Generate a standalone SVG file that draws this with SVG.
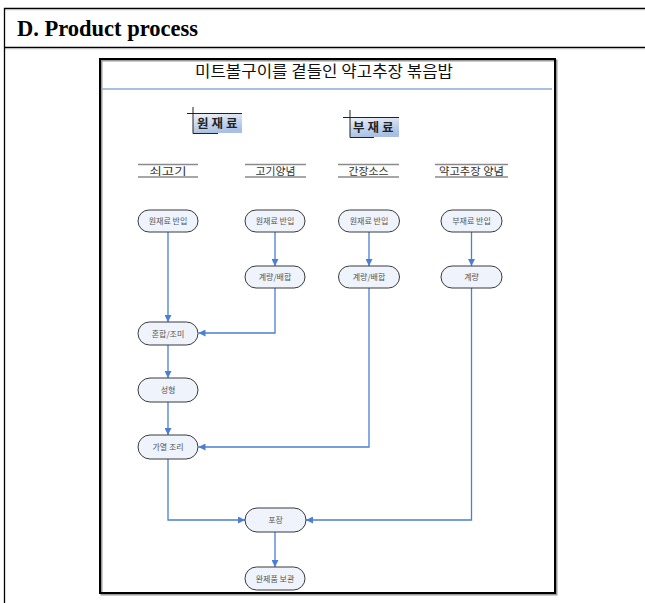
<svg xmlns="http://www.w3.org/2000/svg" width="645" height="603" viewBox="0 0 645 603">
<style>
.kr{font-family:"Noto Sans CJK KR","Noto Sans",sans-serif}
.node rect{fill:#eef3fc;stroke:#3a3a3a;stroke-width:1}
.node text{font-size:8px;fill:#555;text-anchor:middle}
.cat line{stroke:#8a8a8a;stroke-width:1.5}
.cat text{font-size:10.5px;fill:#333;text-anchor:middle}
.conn path{fill:none;stroke:#4a7fd4;stroke-width:1.3;marker-end:url(#arr)}
.lbl text{font-size:12.5px;font-weight:bold;fill:#222;letter-spacing:3px}
.lbl line{stroke:#222;stroke-width:1}
</style>
<defs>
<marker id="arr" markerUnits="userSpaceOnUse" markerWidth="7" markerHeight="7" refX="7" refY="3.5" orient="auto">
<path d="M0,0 L7,3.5 L0,7 z" fill="#4a7fd4"/>
</marker>
<linearGradient id="lg" x1="0" y1="0" x2="0.3" y2="1">
<stop offset="0" stop-color="#eef2fa"/>
<stop offset="1" stop-color="#a9c0e4"/>
</linearGradient>
</defs>
<rect width="645" height="603" fill="#fff"/>
<g id="table">
<line x1="4" y1="8.5" x2="645" y2="8.5" stroke="#000" stroke-width="1.3"/>
<line x1="4" y1="9.8" x2="645" y2="9.8" stroke="#bbb" stroke-width="0.8"/>
<line x1="4" y1="47.5" x2="645" y2="47.5" stroke="#000" stroke-width="1.3"/>
<line x1="4" y1="48.8" x2="645" y2="48.8" stroke="#bbb" stroke-width="0.8"/>
<line x1="4.5" y1="8" x2="4.5" y2="603" stroke="#000" stroke-width="1.3"/>
<text x="17" y="35.5" font-family="Liberation Serif,serif" font-weight="bold" font-size="24" textLength="181" lengthAdjust="spacingAndGlyphs">D.  Product  process</text>
</g>
<g id="frame">
<rect x="101.5" y="60.5" width="455" height="534" fill="none" stroke="#999" stroke-width="2"/>
<rect x="100" y="59" width="455" height="534" fill="none" stroke="#000" stroke-width="2"/>
<text class="kr" x="324" y="76.5" font-size="15.5" text-anchor="middle" fill="#111" textLength="258" lengthAdjust="spacingAndGlyphs">미트볼구이를 곁들인 약고추장 볶음밥</text>
<line x1="101" y1="89" x2="552" y2="89" stroke="#8eaadb" stroke-width="1.5"/>
</g>
<g id="label-raw" class="lbl kr">
<rect x="193" y="114" width="49" height="19" fill="url(#lg)"/>
<line x1="193" y1="107" x2="193" y2="133.5"/>
<line x1="187" y1="113.5" x2="242" y2="113.5"/>
<line x1="193" y1="133.5" x2="218" y2="133.5"/>
<text x="197" y="128">원재료</text>
</g>
<g id="label-sub" class="lbl kr">
<rect x="350" y="117" width="49" height="20" fill="url(#lg)"/>
<line x1="350" y1="110" x2="350" y2="137.5"/>
<line x1="343" y1="117.5" x2="399" y2="117.5"/>
<line x1="350" y1="137.5" x2="374" y2="137.5"/>
<text x="353" y="132">부재료</text>
</g>
<g id="cat-beef" class="cat kr">
<line x1="138" y1="164.5" x2="198" y2="164.5"/><line x1="138" y1="177" x2="198" y2="177"/>
<text x="168" y="175" textLength="37" lengthAdjust="spacingAndGlyphs">쇠고기</text>
</g>
<g id="cat-meat-sauce" class="cat kr">
<line x1="245" y1="164.5" x2="306" y2="164.5"/><line x1="245" y1="177" x2="306" y2="177"/>
<text x="275.5" y="175" textLength="40" lengthAdjust="spacingAndGlyphs">고기양념</text>
</g>
<g id="cat-soy" class="cat kr">
<line x1="338" y1="164.5" x2="399" y2="164.5"/><line x1="338" y1="177" x2="399" y2="177" stroke="#555"/>
<text x="368.5" y="175" textLength="40" lengthAdjust="spacingAndGlyphs">간장소스</text>
</g>
<g id="cat-gochujang" class="cat kr">
<line x1="435" y1="164.5" x2="508" y2="164.5"/><line x1="435" y1="177" x2="508" y2="177"/>
<text x="471.5" y="175" textLength="65" lengthAdjust="spacingAndGlyphs">약고추장 양념</text>
</g>
<g id="connectors" class="conn">
<path d="M168,232 V322"/>
<path d="M275,232 V266"/>
<path d="M369,232 V266"/>
<path d="M471.5,232 V266"/>
<path d="M275,288 V333 H198.5"/>
<path d="M168,345 V378"/>
<path d="M168,402 V435"/>
<path d="M369,288 V447 H198.5"/>
<path d="M168,459 V520 H245"/>
<path d="M471.5,288 V520 H306"/>
<path d="M275,532 V567"/>
</g>
<g id="n1" class="node kr"><rect x="138" y="210" width="60" height="22" rx="11"/><text x="168" y="224">원재료 반입</text></g>
<g id="n2" class="node kr"><rect x="245" y="210" width="60" height="22" rx="11"/><text x="275" y="224">원재료 반입</text></g>
<g id="n3" class="node kr"><rect x="338.5" y="210" width="61" height="22" rx="11"/><text x="369" y="224">원재료 반입</text></g>
<g id="n4" class="node kr"><rect x="441" y="210" width="61" height="22" rx="11"/><text x="471.5" y="224">부재료 반입</text></g>
<g id="n5" class="node kr"><rect x="245" y="266" width="60" height="22" rx="11"/><text x="275" y="280">계량/배합</text></g>
<g id="n6" class="node kr"><rect x="338.5" y="266" width="61" height="22" rx="11"/><text x="369" y="280">계량/배합</text></g>
<g id="n7" class="node kr"><rect x="441" y="266" width="61" height="22" rx="11"/><text x="471.5" y="280">계량</text></g>
<g id="n8" class="node kr"><rect x="138" y="322" width="60" height="23" rx="11.5"/><text x="168" y="336.5">혼합/조미</text></g>
<g id="n9" class="node kr"><rect x="138" y="378" width="60" height="24" rx="12"/><text x="168" y="393">성형</text></g>
<g id="n10" class="node kr"><rect x="138" y="435" width="60" height="24" rx="12"/><text x="168" y="450">가열 조리</text></g>
<g id="n11" class="node kr"><rect x="245" y="508" width="61" height="24" rx="12"/><text x="275.5" y="523">포장</text></g>
<g id="n12" class="node kr"><rect x="245" y="567" width="60" height="23" rx="11.5"/><text x="275" y="581.5">완제품 보관</text></g>
</svg>
